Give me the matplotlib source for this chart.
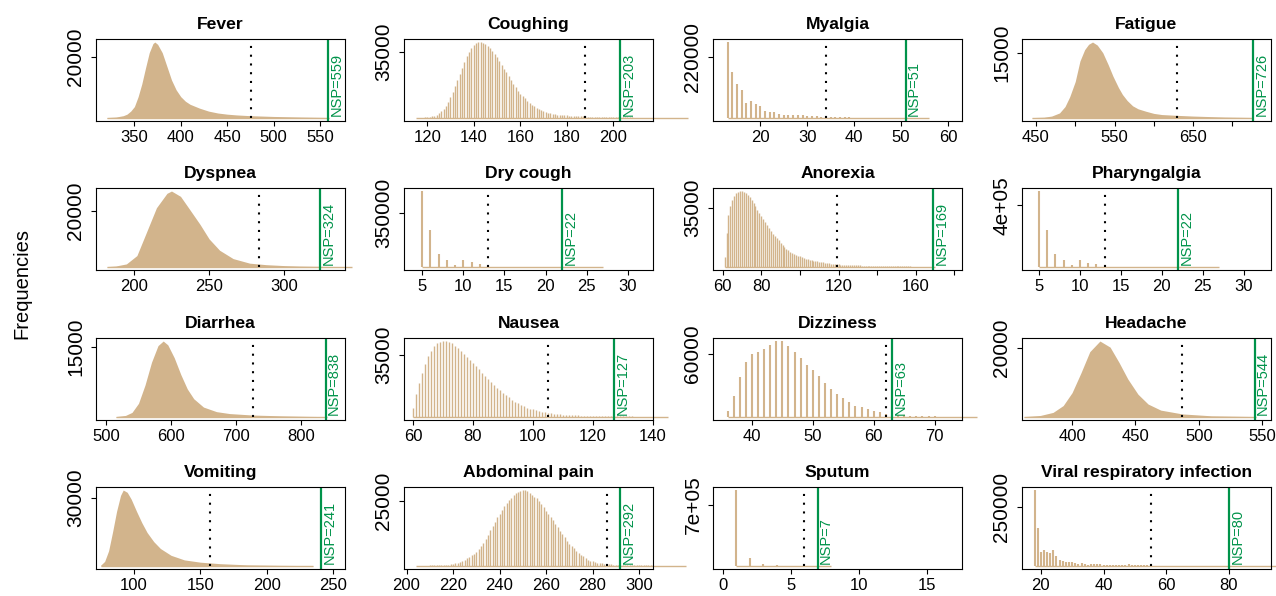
import matplotlib
matplotlib.use('Agg')
import matplotlib.pyplot as plt
import matplotlib.transforms as mtransforms
import numpy as np

plt.rcParams['font.family'] = ['Liberation Sans', 'DejaVu Sans']

TAN = '#D2B48C'
GREEN = '#00934A'

# ---------------- data ----------------
titles = ['Fever', 'Coughing', 'Myalgia', 'Fatigue',
          'Dyspnea', 'Dry cough', 'Anorexia', 'Pharyngalgia',
          'Diarrhea', 'Nausea', 'Dizziness', 'Headache',
          'Vomiting', 'Abdominal pain', 'Sputum', 'Viral respiratory infection']
nsp_values = [559, 203, 51, 726, 324, 22, 169, 22, 838, 127, 63, 544, 241, 292, 7, 80]
thresholds = [476, 188, 34, 629, 283, 13, 119, 13, 726, 105, 62, 487, 157, 286, 6, 55]
ytick_values = [20000, 35000, 220000, 15000, 20000, 350000, 35000, 400000,
                15000, 35000, 60000, 20000, 30000, 25000, 700000, 250000]
ytick_labels = ['20000', '35000', '220000', '15000', '20000', '350000', '35000', '4e+05',
                '15000', '35000', '60000', '20000', '30000', '25000', '7e+05', '250000']

# dense distributions (value, frequency)
fever_x = [320, 330, 338, 342, 346, 350, 354, 358, 362, 366, 370, 372, 375, 380, 385, 390,
           395, 400, 405, 410, 420, 430, 440, 450, 460, 475, 500, 530, 560]
fever_n = [125, 300, 750, 1250, 2250, 3750, 7000, 11250, 16500, 21500, 24500, 25000, 24250,
           21500, 17000, 12500, 9250, 7000, 5500, 4500, 3250, 2250, 1625, 1250, 1000, 750,
           500, 300, 150]
fatigue_x = [445, 460, 470, 480, 487, 493, 500, 506, 512, 517, 522, 528, 535, 542, 548, 555,
             560, 566, 573, 580, 590, 600, 610, 628, 650, 690, 726]
fatigue_n = [88, 175, 438, 1155, 2625, 4900, 8400, 13125, 15750, 16975, 17500, 16800, 15050,
             12250, 9625, 7000, 5425, 4025, 2800, 2100, 1540, 1050, 788, 613, 438, 210, 105]
dyspnea_x = [182, 188, 195, 202, 208, 215, 222, 225, 231, 237, 244, 250, 257, 266, 277, 288,
             300, 310, 325, 345]
dyspnea_n = [135, 350, 1080, 4050, 11880, 21060, 26190, 27000, 25110, 20520, 15120, 9990,
             5940, 2970, 1350, 810, 486, 324, 189, 81]
diarrhea_x = [515, 530, 540, 550, 560, 570, 580, 588, 595, 605, 615, 625, 635, 650, 670, 690,
              726, 770, 810, 840]
diarrhea_n = [80, 330, 980, 2930, 6850, 11740, 15320, 16300, 15490, 12710, 9130, 6030, 3910,
              2120, 1140, 730, 410, 240, 130, 65]
headache_x = [362, 375, 385, 393, 400, 407, 414, 422, 430, 437, 444, 452, 460, 470, 487, 510, 545]
headache_n = [110, 440, 1320, 3300, 7040, 12760, 18920, 22000, 20240, 15840, 11000, 6600,
              3740, 1980, 880, 330, 110]
vomiting_x = [75, 78, 81, 84, 87, 90, 92, 95, 98, 102, 106, 110, 115, 120, 128, 138, 150, 165,
              185, 210, 235]
vomiting_n = [330, 2000, 6680, 15030, 24050, 31060, 33400, 32400, 29390, 24050, 19040, 14700,
              10690, 7680, 4680, 2670, 1670, 1000, 500, 270, 130]

# per-integer distributions (first value, frequencies)
coughing_start = 115
coughing_n = [80, 120, 160, 240, 320, 440, 600, 800, 1200, 1800, 2600, 3600, 4800, 6400, 8400,
              10900, 13700, 16900, 20100, 23300, 26500, 29700, 32600, 35000, 37000, 38600,
              39600, 40200, 40200, 39800, 39000, 38200, 37000, 35400, 33800, 32200, 30200,
              28100, 26100, 24100, 22100, 20100, 18100, 16500, 14500, 12900, 11700, 10500,
              9200, 8000, 7000, 6200, 5400, 4800, 4200, 3600, 3200, 2800, 2500, 2200, 2000,
              1800, 1700, 1570, 1450, 1370, 1290, 1200, 1130, 1050, 970, 920, 880, 800, 760,
              720, 690, 660, 630, 600, 570, 540, 510, 480, 450, 420, 400, 380, 360, 340, 320,
              300, 280, 260, 240, 220, 200, 190, 180, 170, 160, 150, 140, 130, 120, 110, 100,
              95, 90, 85, 80, 75, 70, 65, 60, 55, 50, 45]
myalgia_start = 13
myalgia_n = [275000, 166000, 124000, 100000, 55000, 60000, 52000, 44000, 24000, 21700, 20600,
             15700, 12100, 9600, 9600, 11000, 12100, 8200, 7100, 6000, 5000, 4200, 3600, 3000,
             2600, 2200, 1900, 1600, 1400, 1200, 1100, 1000, 900, 800, 700, 650, 600, 550,
             500, 450, 400, 350, 300, 250]
drycough_start = 5
drycough_n = [490000, 239000, 85000, 47000, 15000, 47000, 29000, 21000, 5000, 2000, 1500,
              1200, 1000, 800, 700, 600, 500, 400, 350, 300, 250, 200, 150]
anorexia_start = 61
anorexia_n = [5800, 20200, 30500, 35800, 39400, 41700, 43500, 44400, 44800, 44800, 44400,
              43500, 42600, 41200, 39400, 37600, 35800, 33600, 31800, 30000, 28200, 26400,
              24600, 22800, 21100, 19700, 18400, 17000, 15700, 14300, 13000, 11900, 10800,
              9900, 9000, 8300, 7600, 7200, 6700, 6300, 5800, 5400, 4900, 4500, 4300, 4000,
              3800, 3600, 3400, 3100, 2900, 2700, 2500, 2200, 2100, 2000, 1800, 1700, 1600,
              1500, 1400, 1300, 1200, 1160, 1120, 1080, 1040, 1000, 960, 920, 880, 840, 800,
              770, 740, 710, 680, 650, 620, 590, 560, 540, 520, 500, 480, 460, 440, 420, 400,
              380, 365, 350, 335, 320, 305, 290, 275, 260, 250, 240, 230, 220, 210, 200, 190,
              180, 170, 160, 150, 140]
pharyngalgia_start = 5
pharyngalgia_n = [494000, 240000, 86000, 47000, 15000, 47000, 28000, 21000, 5000, 2000, 1500,
                  1200, 1000, 800, 700, 600, 500, 400, 350, 300, 250, 200, 150]
nausea_start = 60
nausea_n = [5100, 12800, 19200, 24800, 29900, 34200, 37100, 39700, 41400, 42300, 42700, 42700,
            42300, 41400, 40100, 38900, 37100, 35400, 33700, 32000, 30300, 28600, 26900,
            24800, 23100, 21400, 19600, 17900, 16200, 14900, 13700, 12400, 11100, 9800, 8500,
            7700, 6800, 6000, 5300, 4700, 4300, 3800, 3400, 3000, 2600, 2350, 2100, 1900,
            1700, 1550, 1350, 1240, 1110, 1020, 940, 850, 770, 680, 640, 600, 555, 510, 490,
            470, 450, 430, 410, 390, 370, 350, 330, 310, 290, 270, 250, 235, 220, 205, 190,
            175, 160, 145, 130, 115, 100, 90]
dizziness_start = 36
dizziness_n = [6000, 20100, 37400, 51800, 59700, 61800, 64000, 68300, 71900, 71900, 67600,
               61800, 56100, 49600, 44600, 38800, 32400, 26600, 21600, 18000, 14400, 10800,
               9300, 7200, 6000, 4300, 3100, 2200, 1900, 1600, 1200, 900, 700, 600, 500, 400,
               350, 300, 250, 200, 150, 100]
abdominal_start = 204
abdominal_n = [60, 60, 90, 90, 120, 150, 180, 200, 230, 260, 290, 320, 350, 380, 530, 700, 880,
               1080, 1310, 1550, 2040, 2480, 2920, 3500, 4090, 4670, 5550, 6420, 7590, 8760,
               10200, 12000, 13700, 15500, 16900, 18700, 20100, 21600, 23100, 24200, 25400,
               26300, 27200, 28000, 28600, 28900, 29200, 29100, 28800, 28200, 27400, 26700,
               26000, 25100, 23900, 22600, 21300, 20100, 18800, 17500, 16200, 14900, 13600,
               12300, 11000, 9640, 8610, 7590, 6720, 5840, 4960, 4230, 3650, 2920, 2480, 2100,
               1750, 1520, 1280, 1110, 960, 850, 760, 670, 610, 550, 500, 470, 440, 410, 380,
               350, 320, 290, 280, 260, 250, 240, 230, 220, 210, 200, 190, 180, 170, 160, 150,
               140, 130, 120, 110, 100, 90, 80, 70, 65, 60]
sputum_start = 1
sputum_n = [868000, 94000, 22000, 11000, 3000, 2000, 1500, 1000]
viral_start = 18
viral_n = [322000, 161000, 59600, 67600, 61200, 54700, 69200, 41900, 26400, 22500, 18000,
           15100, 16700, 10900, 8400, 10900, 7100, 5500, 8400, 8400, 7100, 7100, 5500, 3200,
           3000, 3000, 2800, 2800, 2600, 2600, 8400, 2500, 2400, 2300, 2200, 2100, 2000,
           1900, 1800, 1700, 1600, 1500, 1400, 1300, 1250, 1200, 1150, 1100, 1050, 1000, 950,
           900, 850, 800, 780, 760, 740, 720, 700, 680, 660, 640, 620, 600, 580, 560, 540,
           520, 500, 480, 460, 440, 420, 400, 380, 360, 340, 320]

# ---------------- layout (axes limits / ticks) ----------------
xlims = [(308.6, 577), (110, 217.1), (9.9, 63), (432.3, 749),
         (174.8, 340.4), (2.78, 33.07), (55, 183.9), (2.94, 33.3),
         (484.6, 867.7), (57, 140), (33.6, 74.5), (360.5, 557),
         (71.5, 259), (198.9, 306), (-0.71, 17.6), (14, 93.4)]
xticks = [list(range(350, 551, 50)), list(range(120, 201, 20)), list(range(20, 61, 10)),
          list(range(450, 701, 50)),
          [200, 250, 300], list(range(5, 31, 5)), list(range(60, 181, 20)), list(range(5, 31, 5)),
          [500, 600, 700, 800], list(range(60, 141, 20)), [40, 50, 60, 70], [400, 450, 500, 550],
          [100, 150, 200, 250], list(range(200, 301, 20)), [0, 5, 10, 15], [20, 40, 60, 80]]
hidden_labels = {3: [500, 600, 700], 6: [100, 140, 180]}

series = [
    ('area', fever_x, fever_n), ('bars', coughing_start, coughing_n),
    ('bars', myalgia_start, myalgia_n), ('area', fatigue_x, fatigue_n),
    ('area', dyspnea_x, dyspnea_n), ('bars', drycough_start, drycough_n),
    ('bars', anorexia_start, anorexia_n), ('bars', pharyngalgia_start, pharyngalgia_n),
    ('area', diarrhea_x, diarrhea_n), ('bars', nausea_start, nausea_n),
    ('bars', dizziness_start, dizziness_n), ('area', headache_x, headache_n),
    ('area', vomiting_x, vomiting_n), ('bars', abdominal_start, abdominal_n),
    ('bars', sputum_start, sputum_n), ('bars', viral_start, viral_n),
]

W, H = 1276, 596
fig = plt.figure(figsize=(W / 100, H / 100), dpi=100)

lefts = [96, 404, 713, 1022]
tops = [39, 188, 338, 487]
aw, ah = 249, 82

for i in range(16):
    r, c = divmod(i, 4)
    ax = fig.add_axes([lefts[c] / W, 1 - (tops[r] + ah) / H, aw / W, ah / H])
    kind, a, n = series[i]
    n = np.asarray(n, dtype=float)
    if kind == 'area':
        xs = np.asarray(a, dtype=float)
        ax.fill_between(xs, 0, n, color=TAN, lw=0)
    else:
        xs = a + np.arange(len(n))
        x0, x1 = xlims[i]
        ppu = aw / (x1 - x0)
        lw = 1.5 if ppu > 3 else 1.0
        ax.vlines(xs, 0, n, color=TAN, lw=lw)
    ax.plot([xs[0], xs[-1]], [0, 0], color=TAN, lw=1.0, clip_on=False,
            solid_capstyle='butt')
    m = n.max()
    ax.set_xlim(*xlims[i])
    ax.set_ylim(-0.04 * m, 1.04 * m)
    # threshold (dotted) and NSP line
    ax.plot([thresholds[i], thresholds[i]], [0, 0.97 * m], color='black', lw=1.5,
            linestyle=(0, (1, 3.2)))
    ax.axvline(nsp_values[i], color=GREEN, lw=1.6)
    trans = mtransforms.offset_copy(
        mtransforms.blended_transform_factory(ax.transData, ax.transAxes),
        fig=fig, x=1.0, y=0, units='points')
    ax.text(nsp_values[i], 0.055, f'NSP={nsp_values[i]}', transform=trans, rotation=90,
            ha='left', va='bottom', color=GREEN, fontsize=10.5)
    # ticks
    ax.set_xticks(xticks[i])
    hid = hidden_labels.get(i, [])
    ax.set_xticklabels(['' if t in hid else str(t) for t in xticks[i]], fontsize=12)
    ax.set_yticks([ytick_values[i]])
    ax.set_yticklabels([ytick_labels[i]], rotation=90, va='center', fontsize=15)
    ax.tick_params(direction='out', length=3.6, width=0.8, colors='black')
    ax.tick_params(axis='x', pad=3)
    ax.tick_params(axis='y', pad=4)
    for sp in ax.spines.values():
        sp.set_linewidth(0.8)
        sp.set_color('black')
    ax.set_title(titles[i], fontsize=12.6, fontweight='bold', pad=7)

fig.text(22 / W, 1 - 283 / H, 'Frequencies', rotation=90, ha='center', va='center',
         fontsize=14.5)

fig.savefig('out.png', dpi=100)
